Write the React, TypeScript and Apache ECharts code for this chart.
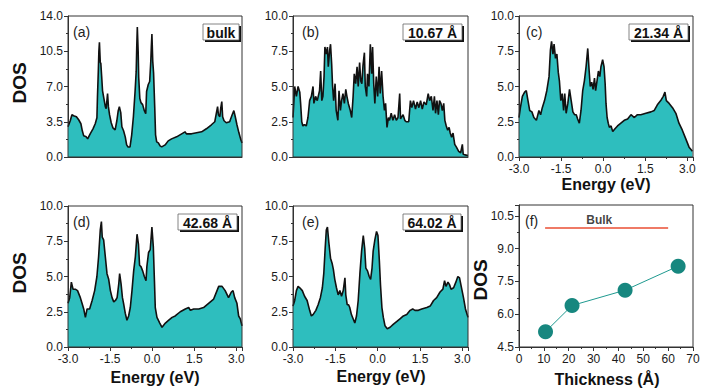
import { useEffect, useRef } from "react";
import * as echarts from "echarts";

// ---------- data ----------
const aEnergy = [-3.00,-2.92,-2.86,-2.80,-2.70,-2.62,-2.54,-2.49,-2.44,-2.35,-2.30,-2.21,-2.11,-2.03,-1.97,-1.95,-1.92,-1.90,-1.88,-1.85,-1.83,-1.80,-1.77,-1.72,-1.67,-1.64,-1.59,-1.56,-1.52,-1.46,-1.40,-1.32,-1.26,-1.21,-1.17,-1.12,-1.08,-1.02,-0.96,-0.91,-0.86,-0.79,-0.73,-0.67,-0.61,-0.57,-0.55,-0.53,-0.50,-0.48,-0.44,-0.40,-0.34,-0.28,-0.23,-0.20,-0.14,-0.09,-0.05,-0.03,-0.01,0.02,0.05,0.09,0.12,0.16,0.22,0.28,0.34,0.46,0.57,0.69,0.87,1.05,1.17,1.22,1.40,1.58,1.76,1.93,2.11,2.23,2.29,2.33,2.36,2.41,2.44,2.48,2.51,2.56,2.64,2.76,2.85,2.91,2.96,3.02,3.09,3.15,3.20];
const aDos = [3.0,3.6,4.2,4.1,4.0,3.7,3.3,2.6,2.1,2.0,1.8,2.3,2.8,3.3,3.9,6.0,8.5,10.5,11.4,9.4,9.3,8.0,6.6,5.8,5.0,4.8,6.3,5.0,4.2,3.4,2.9,2.7,3.6,4.6,5.0,4.4,3.0,2.6,2.0,1.2,1.0,1.0,2.2,4.0,6.5,8.5,11.0,12.9,10.5,7.9,5.8,5.4,5.2,4.6,4.3,6.5,7.2,7.5,9.5,11.0,12.2,9.5,8.3,5.0,2.2,1.5,1.4,1.1,1.0,1.2,1.6,1.8,2.0,2.3,2.5,2.3,2.3,2.4,2.5,2.8,3.2,3.5,4.4,5.0,4.2,4.0,4.8,5.5,4.0,3.6,3.4,3.5,4.2,4.6,4.0,3.2,2.4,1.8,1.4];

const bEnergy = [-3.00,-2.94,-2.88,-2.82,-2.76,-2.73,-2.69,-2.65,-2.59,-2.53,-2.47,-2.41,-2.35,-2.29,-2.26,-2.20,-2.14,-2.06,-2.02,-1.98,-1.94,-1.90,-1.87,-1.82,-1.78,-1.75,-1.70,-1.67,-1.63,-1.60,-1.56,-1.51,-1.47,-1.41,-1.37,-1.32,-1.28,-1.23,-1.18,-1.13,-1.09,-1.04,-0.97,-0.92,-0.87,-0.83,-0.78,-0.73,-0.69,-0.64,-0.60,-0.56,-0.52,-0.47,-0.44,-0.39,-0.36,-0.31,-0.26,-0.21,-0.18,-0.14,-0.10,-0.05,0.00,0.05,0.09,0.14,0.19,0.24,0.28,0.33,0.38,0.42,0.48,0.54,0.60,0.66,0.72,0.78,0.81,0.90,0.96,1.01,1.10,1.16,1.21,1.27,1.34,1.40,1.46,1.52,1.58,1.64,1.72,1.79,1.84,1.90,1.96,2.01,2.05,2.10,2.15,2.19,2.24,2.29,2.34,2.38,2.43,2.48,2.53,2.57,2.62,2.67,2.73,2.79,2.87,2.94,3.00,3.03,3.09,3.20];
const bDos = [2.8,5.0,4.3,5.0,4.6,3.8,2.5,2.2,2.3,2.2,2.8,4.0,4.3,5.0,3.8,4.3,4.0,4.7,6.1,4.0,4.3,5.7,7.8,7.3,7.8,6.4,7.6,8.0,6.6,5.1,4.0,5.2,3.3,2.6,4.7,3.3,4.0,4.5,3.8,4.8,4.3,3.8,3.3,2.8,4.3,5.9,5.2,6.4,5.0,6.7,5.4,5.2,6.5,7.4,5.0,4.3,5.9,5.0,8.0,5.9,7.8,5.2,3.8,5.7,4.3,6.4,4.5,6.1,4.3,3.3,3.8,2.1,2.8,2.6,3.1,2.6,3.0,2.6,2.8,4.5,2.7,3.0,2.6,2.5,2.5,4.0,3.5,4.0,3.4,3.9,3.5,4.0,3.4,3.9,3.7,4.5,4.0,4.3,3.3,4.3,3.1,4.0,3.0,4.0,3.8,3.3,3.8,2.6,2.2,1.9,2.1,1.7,1.4,1.7,0.9,0.7,0.4,0.3,0.9,0.2,0.15,0.1];

const cEnergy = [-3.00,-2.95,-2.88,-2.80,-2.74,-2.68,-2.62,-2.54,-2.47,-2.38,-2.29,-2.23,-2.17,-2.09,-2.01,-1.93,-1.88,-1.84,-1.79,-1.75,-1.70,-1.65,-1.60,-1.56,-1.51,-1.46,-1.41,-1.37,-1.32,-1.26,-1.20,-1.14,-1.08,-1.02,-0.96,-0.91,-0.85,-0.79,-0.73,-0.67,-0.61,-0.55,-0.50,-0.46,-0.41,-0.36,-0.31,-0.27,-0.22,-0.17,-0.12,-0.08,-0.02,0.03,0.07,0.10,0.14,0.18,0.22,0.28,0.34,0.42,0.51,0.63,0.75,0.87,0.99,1.11,1.22,1.34,1.52,1.70,1.82,1.93,2.05,2.14,2.20,2.25,2.35,2.47,2.59,2.70,2.82,2.94,3.06,3.18];
const cDos = [2.8,3.5,4.3,4.6,4.7,4.0,3.3,3.2,2.8,2.6,3.3,3.0,3.5,4.0,4.7,5.7,7.6,8.2,7.3,8.0,7.0,7.3,6.0,5.4,4.0,4.5,3.3,4.5,3.1,3.8,4.8,4.0,3.2,3.0,3.0,2.7,2.4,3.3,4.7,5.4,6.4,7.7,6.1,5.0,5.3,4.8,5.6,4.7,5.4,6.1,5.7,6.4,6.9,6.4,5.2,3.8,2.8,2.4,2.1,2.2,1.8,2.0,2.2,2.4,2.6,2.7,3.0,2.8,3.0,3.0,3.1,3.2,3.3,3.7,4.0,4.3,4.6,4.0,3.8,3.5,3.1,2.4,1.9,1.3,0.7,0.4];

const dEnergy = [-3.00,-2.94,-2.88,-2.82,-2.74,-2.66,-2.56,-2.50,-2.44,-2.38,-2.32,-2.23,-2.14,-2.05,-1.97,-1.91,-1.85,-1.81,-1.78,-1.73,-1.67,-1.61,-1.55,-1.49,-1.43,-1.37,-1.31,-1.25,-1.19,-1.16,-1.11,-1.06,-1.02,-0.96,-0.90,-0.84,-0.78,-0.72,-0.66,-0.60,-0.54,-0.49,-0.45,-0.40,-0.34,-0.28,-0.22,-0.19,-0.13,-0.07,-0.01,0.04,0.08,0.11,0.17,0.27,0.35,0.47,0.59,0.71,0.82,1.00,1.18,1.30,1.36,1.48,1.66,1.83,2.01,2.19,2.31,2.37,2.49,2.60,2.72,2.82,2.88,2.94,3.02,3.08,3.14,3.20];
const dDos = [3.1,3.5,4.6,4.1,4.1,4.0,3.5,3.1,2.7,2.1,2.7,2.7,3.3,4.0,5.0,6.4,8.3,8.9,7.8,7.6,6.4,5.2,4.8,4.0,3.5,3.2,3.3,3.5,4.5,5.2,4.5,3.5,3.1,2.4,1.9,2.2,2.8,4.0,5.4,6.4,8.0,7.3,5.8,5.7,5.4,5.0,4.7,5.7,6.7,6.9,8.5,7.1,4.7,2.8,2.1,1.7,1.4,1.7,1.9,2.1,2.2,2.5,2.7,2.8,2.6,2.7,2.7,2.8,3.1,3.4,4.0,4.3,4.3,4.0,3.5,3.9,4.0,3.5,3.1,2.2,2.0,1.5];

const eEnergy = [-3.00,-2.94,-2.88,-2.82,-2.76,-2.67,-2.59,-2.50,-2.41,-2.35,-2.29,-2.19,-2.11,-2.03,-1.96,-1.91,-1.86,-1.82,-1.78,-1.73,-1.67,-1.61,-1.57,-1.52,-1.46,-1.40,-1.34,-1.28,-1.22,-1.16,-1.13,-1.08,-1.03,-0.99,-0.93,-0.87,-0.81,-0.75,-0.69,-0.63,-0.57,-0.51,-0.46,-0.42,-0.36,-0.30,-0.25,-0.20,-0.16,-0.10,-0.04,0.01,0.06,0.10,0.15,0.20,0.26,0.34,0.44,0.55,0.67,0.79,0.91,1.03,1.15,1.24,1.32,1.44,1.56,1.74,1.86,1.98,2.09,2.21,2.31,2.37,2.42,2.49,2.55,2.60,2.69,2.77,2.84,2.90,2.96,3.04,3.11,3.20];
const eDos = [2.9,3.3,4.0,4.3,4.2,4.0,3.6,3.3,2.6,2.2,2.3,2.6,3.0,3.5,4.2,5.2,7.0,8.3,8.5,7.4,6.3,5.9,5.5,4.8,4.2,3.7,4.0,3.6,4.0,4.9,3.7,3.0,3.0,2.8,2.3,2.0,1.7,2.2,3.3,5.2,6.8,7.9,7.0,5.6,5.4,5.0,4.8,5.6,6.8,7.6,8.2,7.9,6.1,4.4,2.8,2.1,1.5,1.3,1.4,1.6,1.8,2.0,2.2,2.3,2.6,2.7,2.6,2.6,2.7,2.8,2.9,3.3,3.5,3.9,4.1,4.7,4.3,4.6,4.4,4.1,4.2,4.6,5.0,4.9,4.3,3.5,2.7,2.1];

const thickness = [10.67, 21.34, 42.68, 64.02];
const dosAtFermi = [5.2, 6.4, 7.1, 8.2];
const bulkX = [10.5, 60];
const bulkDos = 9.95;
const bulkLabelPos = [32.3, 10.32];

const panelTags = ["bulk", "10.67 Å", "21.34 Å", "42.68 Å", "64.02 Å"];
const panelLetters = ["(a)", "(b)", "(c)", "(d)", "(e)", "(f)"];

// ---------- styling / layout ----------
const FONT = '"Liberation Sans", Arial, Helvetica, sans-serif';
const FILL = "#2ebebe";
const FRAME = "#333";
const TXT = "#1a1a1a";

type Panel = {
  energy: number[];
  dos: number[];
  grid: { left: number; top: number; width: number; height: number };
  yMax: number;
  yInterval: number;
  showX: boolean;
  tag: string;
  tagBox: [number, number, number, number];
};

const panels: Panel[] = [
  { energy: aEnergy, dos: aDos, grid: { left: 68, top: 16, width: 174, height: 141 }, yMax: 14, yInterval: 3.5, showX: false, tag: panelTags[0], tagBox: [203, 24, 36, 16] },
  { energy: bEnergy, dos: bDos, grid: { left: 293, top: 16, width: 175, height: 141 }, yMax: 10, yInterval: 2.5, showX: false, tag: panelTags[1], tagBox: [403, 24, 59, 16] },
  { energy: cEnergy, dos: cDos, grid: { left: 519, top: 16, width: 174, height: 141 }, yMax: 10, yInterval: 2.5, showX: true, tag: panelTags[2], tagBox: [629, 24, 59, 16] },
  { energy: dEnergy, dos: dDos, grid: { left: 68, top: 206, width: 174, height: 141 }, yMax: 10, yInterval: 2.5, showX: true, tag: panelTags[3], tagBox: [178, 214, 59, 16] },
  { energy: eEnergy, dos: eDos, grid: { left: 293, top: 206, width: 175, height: 141 }, yMax: 10, yInterval: 2.5, showX: true, tag: panelTags[4], tagBox: [403, 214, 58, 16] },
];
const fGrid = { left: 519, top: 205, width: 174, height: 142 };

const letterPos: [number, number][] = [[73, 32], [302, 32], [526, 32], [73, 222], [302, 222], [525, 221]];

function axisCommon(show: boolean) {
  return {
    axisLine: { show: true, onZero: false, lineStyle: { color: FRAME, width: 1 } },
    axisTick: { show, length: 4, lineStyle: { color: FRAME } },
    minorTick: { show, splitNumber: 2, length: 2, lineStyle: { color: FRAME } },
    splitLine: { show: false },
    minorSplitLine: { show: false },
  };
}

const LABEL_SIZE = 12;

function buildOption() {
  const grids: any[] = [];
  const xAxes: any[] = [];
  const yAxes: any[] = [];
  const series: any[] = [];
  const graphic: any[] = [];

  panels.forEach((p, i) => {
    grids.push({ ...p.grid, show: true, z: 5, backgroundColor: "transparent", borderColor: FRAME, borderWidth: 1 });
    xAxes.push({
      type: "value", gridIndex: i, min: -3, max: 3.2, interval: 1.5,
      ...axisCommon(p.showX),
      axisLabel: {
        show: p.showX, fontSize: LABEL_SIZE, color: TXT, fontFamily: FONT, margin: 6,
        formatter: (v: number) => (Math.abs(v - 3.2) < 1e-6 ? "" : (Math.abs(v) < 1e-9 ? 0 : v).toFixed(1)),
      },
    });
    yAxes.push({
      type: "value", gridIndex: i, min: 0, max: p.yMax, interval: p.yInterval,
      ...axisCommon(true),
      axisLabel: { fontSize: LABEL_SIZE, color: TXT, fontFamily: FONT, margin: 5, formatter: (v: number) => v.toFixed(1) },
    });
    series.push({
      type: "line", xAxisIndex: i, yAxisIndex: i,
      data: p.energy.map((e, k) => [e, p.dos[k]]),
      showSymbol: false, symbol: "none",
      lineStyle: { color: "#111", width: 1.6 },
      areaStyle: { color: FILL, opacity: 1 },
      z: 2,
    });
    const [bx, by, bw, bh] = p.tagBox;
    graphic.push({ type: "rect", z: 100, shape: { x: bx + 2, y: by + 2, width: bw, height: bh }, style: { fill: "#111" } });
    graphic.push({ type: "rect", z: 101, shape: { x: bx, y: by, width: bw, height: bh }, style: { fill: "#fff", stroke: "#666", lineWidth: 0.8 } });
    graphic.push({
      type: "text", z: 102, x: bx + bw / 2, y: by + bh / 2 + 0.5,
      style: { text: p.tag, fill: "#111", font: `bold 14px ${FONT}`, align: "center", verticalAlign: "middle" },
    });
  });

  // panel (f)
  const fi = panels.length;
  grids.push({ ...fGrid, show: true, z: 5, backgroundColor: "transparent", borderColor: FRAME, borderWidth: 1 });
  xAxes.push({
    type: "value", gridIndex: fi, min: 0, max: 70, interval: 10,
    ...axisCommon(true),
    axisLabel: { fontSize: LABEL_SIZE, color: TXT, fontFamily: FONT, margin: 6 },
  });
  yAxes.push({
    type: "value", gridIndex: fi, min: 4.5, max: 11, interval: 1.5,
    ...axisCommon(true),
    axisLabel: {
      fontSize: LABEL_SIZE, color: TXT, fontFamily: FONT, margin: 5,
      formatter: (v: number) => (Math.abs(v - 11) < 1e-6 ? "" : v.toFixed(1)),
    },
  });
  series.push({
    type: "line", xAxisIndex: fi, yAxisIndex: fi,
    data: bulkX.map((x) => [x, bulkDos]),
    showSymbol: false, symbol: "none",
    lineStyle: { color: "#ef7a66", width: 2 },
    z: 3,
  });
  series.push({
    type: "line", xAxisIndex: fi, yAxisIndex: fi,
    data: thickness.map((t, k) => [t, dosAtFermi[k]]),
    symbol: "circle", symbolSize: 15,
    itemStyle: { color: "#17877f" },
    lineStyle: { color: "#1f9a90", width: 1 },
    z: 4,
  });
  series.push({
    type: "scatter", xAxisIndex: fi, yAxisIndex: fi,
    data: [bulkLabelPos],
    symbolSize: 1, itemStyle: { color: "rgba(0,0,0,0)" },
    label: { show: true, position: "inside", formatter: "Bulk", fontSize: 12, fontWeight: "bold", color: "#111", fontFamily: FONT },
    z: 4,
  });

  // panel letters
  panelLetters.forEach((l, i) => {
    const [x, y] = letterPos[i];
    graphic.push({ type: "text", z: 100, x, y, style: { text: l, fill: "#222", font: `14px ${FONT}`, align: "left", verticalAlign: "middle" } });
  });

  // axis titles
  const titleFont = `bold 19px ${FONT}`;
  const dosTitles: [number, number][] = [[19, 83], [19, 273], [480, 280]];
  dosTitles.forEach(([x, y]) => {
    graphic.push({ type: "text", z: 100, x, y, rotation: Math.PI / 2, style: { text: "DOS", fill: "#111", font: titleFont, align: "center", verticalAlign: "middle" } });
  });
  const energyTitles: [number, number][] = [[606, 184], [155, 377], [381, 376]];
  energyTitles.forEach(([x, y]) => {
    graphic.push({ type: "text", z: 100, x, y, style: { text: "Energy (eV)", fill: "#111", font: `bold 16px ${FONT}`, align: "center", verticalAlign: "middle" } });
  });
  graphic.push({ type: "text", z: 100, x: 607, y: 379, style: { text: "Thickness (Å)", fill: "#111", font: `bold 16px ${FONT}`, align: "center", verticalAlign: "middle" } });

  return {
    animation: false,
    backgroundColor: "#fff",
    grid: grids,
    xAxis: xAxes,
    yAxis: yAxes,
    series,
    graphic,
  };
}

export default function App() {
  const ref = useRef<HTMLDivElement>(null);
  useEffect(() => {
    if (!ref.current) return;
    const chart = echarts.init(ref.current, null, { renderer: "svg" });
    chart.setOption(buildOption() as any);
    return () => chart.dispose();
  }, []);
  return (
    <div
      ref={ref}
      style={{ position: "fixed", left: 0, top: 0, width: 706, height: 391, background: "#fff" }}
    />
  );
}
